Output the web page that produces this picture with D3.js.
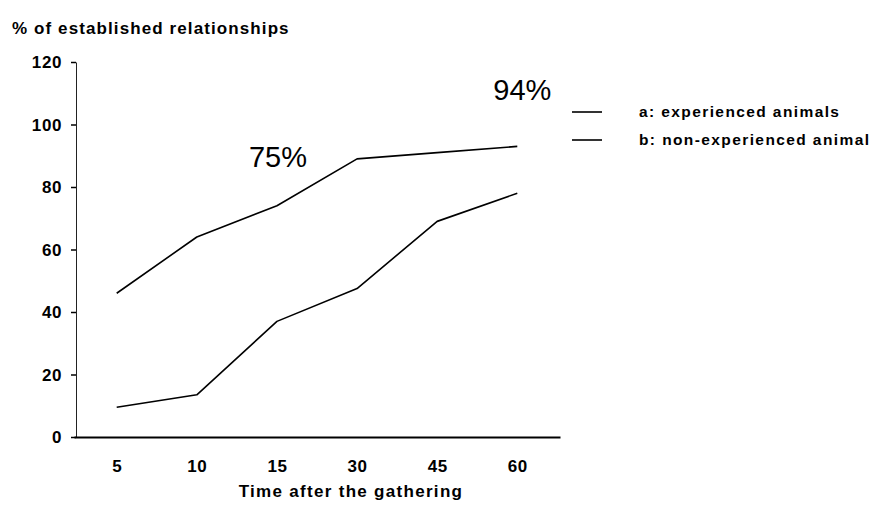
<!DOCTYPE html>
<html>
<head>
<meta charset="utf-8">
<script src="https://cdn.jsdelivr.net/npm/d3@7"></script>
<style>
  html, body { margin: 0; padding: 0; background: #fff; }
  svg { display: block; }
  text { font-family: "Liberation Sans", Arial, sans-serif; fill: #000; }
</style>
</head>
<body>
<svg id="chart" width="876" height="507"></svg>
<script>
const categories = ["5", "10", "15", "30", "45", "60"];
const experienced = [46, 64, 74, 89, 91, 93];
const nonExperienced = [9.5, 13.5, 37, 47.5, 69, 78];
const yTicks = [0, 20, 40, 60, 80, 100, 120];
const seriesNames = ["a: experienced animals", "b: non-experienced animal"];
const annotations = [{ text: "75%", cat: "15", value: 86.5 }, { text: "94%", cat: "60", value: 108 }];

const svg = d3.select("#chart");

const x = d3.scalePoint().domain(categories).range([74, 560]).padding(0.533);
const y = d3.scaleLinear().domain([0, 120]).range([437, 62]);

// Y axis
const yAxis = svg.append("g").attr("transform", "translate(76,0)")
  .call(d3.axisLeft(y).tickValues(yTicks).tickSize(5).tickPadding(9).tickSizeOuter(0));
yAxis.select(".domain").attr("stroke", "#222").attr("stroke-width", 1);
yAxis.selectAll(".tick line").attr("stroke", "#000").attr("stroke-width", 1.5);
yAxis.selectAll(".tick text").attr("font-size", 17).attr("font-weight", "bold")
  .attr("letter-spacing", 0.6).attr("dy", "0.35em");

// X axis
const xAxis = svg.append("g").attr("transform", "translate(0,437)")
  .call(d3.axisBottom(x).tickSize(0).tickSizeOuter(0).tickPadding(0));
xAxis.select(".domain").attr("stroke", "#000").attr("stroke-width", 2);
xAxis.selectAll(".tick text").attr("font-size", 17).attr("font-weight", "bold")
  .attr("letter-spacing", 0.6).attr("y", 35).attr("dy", 0);

// Titles
svg.append("text").attr("x", 12).attr("y", 34).attr("font-size", 17).attr("font-weight", "bold")
  .attr("letter-spacing", 1.1).text("% of established relationships");
svg.append("text").attr("x", 351).attr("y", 497).attr("text-anchor", "middle")
  .attr("font-size", 17).attr("font-weight", "bold").attr("letter-spacing", 1.3)
  .text("Time after the gathering");

// Lines
const line = d3.line().x((d, i) => x(categories[i])).y(d => y(d));
[experienced, nonExperienced].forEach(s => {
  svg.append("path").datum(s).attr("d", line)
    .attr("fill", "none").attr("stroke", "#000").attr("stroke-width", 1.6)
    .attr("stroke-linejoin", "round");
});

// Annotations
svg.selectAll(".ann").data(annotations).enter().append("text")
  .attr("class", "ann")
  .attr("x", (d, i) => x(d.cat) + (i === 0 ? 1 : 5))
  .attr("y", d => y(d.value))
  .attr("text-anchor", "middle")
  .attr("font-size", 29)
  .text(d => d.text);

// Legend
const legend = svg.append("g");
seriesNames.forEach((name, i) => {
  const ly = 112 + i * 28;
  legend.append("line").attr("x1", 572).attr("x2", 602).attr("y1", ly).attr("y2", ly)
    .attr("stroke", "#000").attr("stroke-width", 1.6);
  legend.append("text").attr("x", 639).attr("y", ly + 5).attr("font-size", 15.5)
    .attr("font-weight", "bold").attr("letter-spacing", 1.4).text(name);
});
</script>
</body>
</html>
